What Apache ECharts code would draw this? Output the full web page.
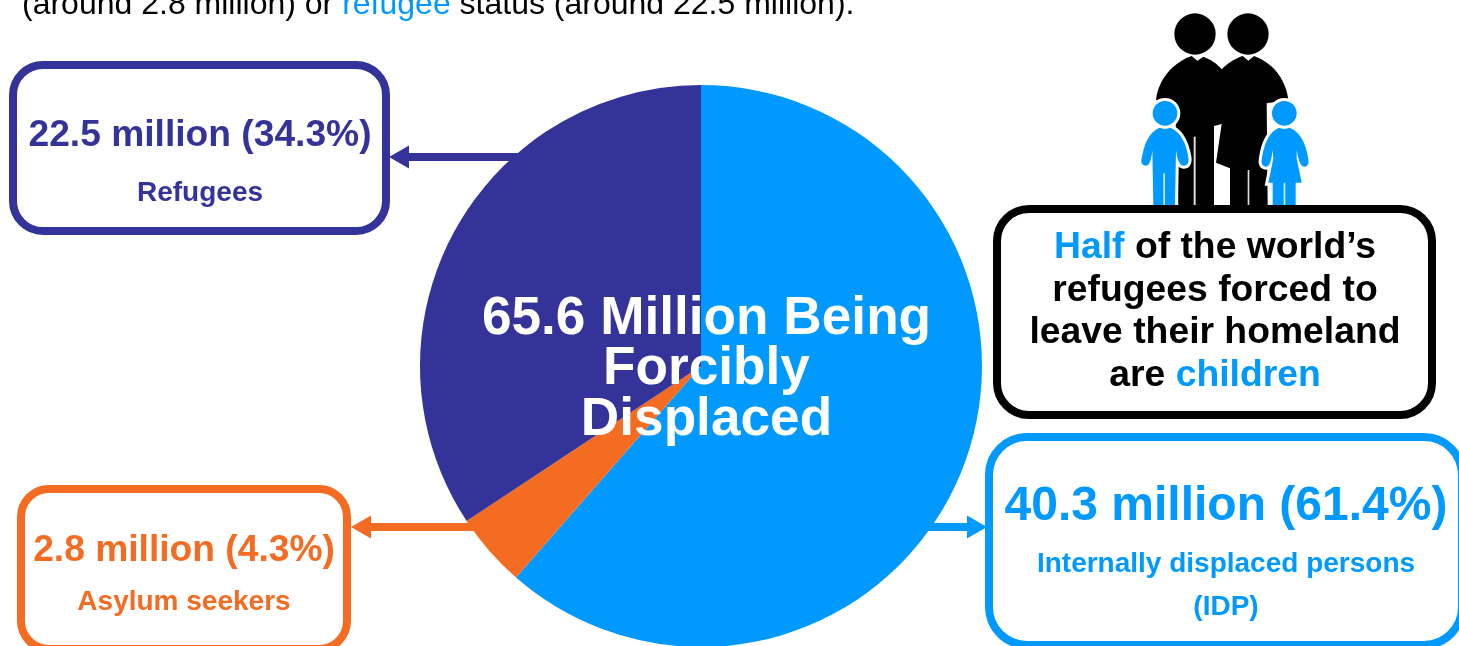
<!DOCTYPE html>
<html>
<head>
<meta charset="utf-8">
<style>html,body{margin:0;padding:0;background:#fff}#c{width:1459px;height:646px}</style>
<script src="https://cdn.jsdelivr.net/npm/echarts@6/dist/echarts.min.js"></script>
</head>
<body>
<div id="c"></div>
<script>
// Displaced population by status, in millions and as share of the total
const categories = ['Internally displaced persons', 'Asylum seekers', 'Refugees'];
const millions = [40.3, 2.8, 22.5];
const shares = [61.4, 4.3, 34.3];
const totalLabel = ['65.6 Million Being', 'Forcibly', 'Displaced'];
const introLine = ['(around 2.8 million) or ', 'refugee', ' status (around 22.5 million).'];
const childrenNote = [
  '{k|Half} of the world’s',
  'refugees forced to',
  'leave their homeland',
  'are {k|children}'
];

const BLUE = '#0099FF', ORANGE = '#F46B22', NAVY = '#333399', FONT = '"Liberation Sans", Arial, sans-serif';

const chart = echarts.init(document.getElementById('c'), null, { renderer: 'canvas' });

function box(x, y, w, h, r, color, lw) {
  return { type: 'rect', z: 5, shape: { x, y, width: w, height: h, r }, style: { fill: '#fff', stroke: color, lineWidth: lw } };
}
function label(text, x, y, size, color) {
  return { type: 'text', z: 6, x, y, style: { text, fill: color, font: 'bold ' + size + 'px ' + FONT, align: 'center', verticalAlign: 'middle' } };
}
// Horizontal leader with a triangular head; tip is the x the arrow points at
function arrow(x0, tip, y, color) {
  const dir = tip > x0 ? 1 : -1;
  const neck = tip - dir * 20;
  return [
    { type: 'rect', z: 0, shape: { x: Math.min(x0, neck), y: y - 4, width: Math.abs(neck - x0), height: 8 }, style: { fill: color } },
    { type: 'polygon', z: 7, shape: { points: [[tip, y], [neck, y - 11.5], [neck, y + 11.5]] }, style: { fill: color } }
  ];
}
function sumText(i) {
  return millions[i] + ' million (' + shares[i] + '%)';
}

// Turns an outline of M/L/C commands into polygon vertices
function outline(d) {
  const tok = d.replace(/([MLC])/g, ' $1 ').trim().split(/\s+/);
  const pts = [];
  let i = 0, cx = 0, cy = 0;
  while (i < tok.length) {
    const t = tok[i];
    if (t === 'M' || t === 'L') {
      cx = +tok[i + 1]; cy = +tok[i + 2]; pts.push([cx, cy]); i += 3;
    } else if (t === 'C') {
      const [a, b, c, e, f, g] = tok.slice(i + 1, i + 7).map(Number);
      for (let s = 1; s <= 12; s++) {
        const u = s / 12, v = 1 - u;
        pts.push([
          v * v * v * cx + 3 * v * v * u * a + 3 * v * u * u * c + u * u * u * f,
          v * v * v * cy + 3 * v * v * u * b + 3 * v * u * u * e + u * u * u * g
        ]);
      }
      cx = f; cy = g; i += 7;
    } else { i++; }
  }
  return pts;
}

// Family pictogram, outlined on a 3:1 grid
const adults = 'M108 300 C112 250 150 190 215 168 L232 182 L250 170 C280 182 295 196 305 208 C320 192 340 178 368 168 L385 182 L402 168 C460 188 498 240 505 300 L440 310 L443 615 L330 615 L330 505 L288 488 L305 372 L282 378 L282 615 L175 615 L165 310';
const boy = 'M128 381 C95 388 75 420 66 470 C60 490 68 497 78 497 C88 497 94 480 97 450 L100 615 L165 615 L168 450 C172 480 178 497 192 497 C202 497 208 488 205 470 C196 420 175 388 142 381 L135 388';
const girl = 'M486 381 C452 388 432 425 425 480 C423 495 432 500 438 500 C450 500 454 480 458 450 L460 475 L445 548 L458 548 L458 615 L527 615 L527 548 L545 548 L530 475 L530 450 C536 480 540 500 554 500 C562 500 567 492 565 480 C558 425 535 388 500 381 L493 388';

// White halo behind a child's shape
const halo = { stroke: '#fff', lineWidth: 18, strokeFirst: true };

const family = {
  type: 'group', x: 1120, y: 0, scaleX: 1 / 3, scaleY: 1 / 3,
  children: [
    { type: 'circle', z: 4, shape: { cx: 225, cy: 102, r: 62 }, style: { fill: '#000' } },
    { type: 'circle', z: 4, shape: { cx: 384, cy: 102, r: 62 }, style: { fill: '#000' } },
    { type: 'polygon', z: 4, shape: { points: outline(adults) }, style: { fill: '#000' } },
    { type: 'rect', z: 4, shape: { x: 221, y: 410, width: 6, height: 205 }, style: { fill: '#ddd' } },
    { type: 'rect', z: 4, shape: { x: 383, y: 510, width: 5, height: 105 }, style: { fill: '#ddd' } },
    { type: 'polygon', z: 4, shape: { points: outline(boy) }, style: { fill: BLUE, ...halo } },
    { type: 'circle', z: 4, shape: { cx: 135, cy: 340, r: 37 }, style: { fill: BLUE, ...halo } },
    { type: 'rect', z: 4, shape: { x: 130, y: 520, width: 5, height: 95 }, style: { fill: '#cfe9ff' } },
    { type: 'polygon', z: 4, shape: { points: outline(girl) }, style: { fill: BLUE, ...halo } },
    { type: 'circle', z: 4, shape: { cx: 493, cy: 340, r: 37 }, style: { fill: BLUE, ...halo } },
    { type: 'rect', z: 4, shape: { x: 491, y: 548, width: 5, height: 67 }, style: { fill: '#cfe9ff' } }
  ]
};

const noteRich = { k: { fill: BLUE, font: 'bold 37.3px ' + FONT } };

chart.setOption({
  animation: false,
  backgroundColor: '#fff',
  tooltip: { show: false },
  series: [{
    type: 'pie',
    z: 2,
    center: [701, 366],
    radius: [0, 281],
    startAngle: 90,
    clockwise: true,
    silent: true,
    label: { show: false },
    labelLine: { show: false },
    data: categories.map((name, i) => ({
      name,
      value: millions[i],
      itemStyle: { color: [BLUE, ORANGE, NAVY][i] }
    }))
  }],
  graphic: { elements: [
    // Intro sentence, clipped by the top edge
    { type: 'text', z: 6, x: 22, y: 5, style: {
      text: introLine[0] + '{k|' + introLine[1] + '}' + introLine[2],
      fill: '#000', font: '32px ' + FONT, verticalAlign: 'middle',
      rich: { k: { fill: BLUE, font: '32px ' + FONT } }
    } },

    ...arrow(560, 389, 157, NAVY),
    ...arrow(520, 351, 527, ORANGE),
    ...arrow(900, 987, 527, BLUE),

    box(13, 65, 373, 166, 30, NAVY, 8),
    label(sumText(2), 200, 135.5, 37.2, NAVY),
    label(categories[2], 200, 193, 28, NAVY),

    box(21, 489, 326, 160, 28, ORANGE, 8),
    label(sumText(1), 184, 550.5, 37.2, ORANGE),
    label(categories[1], 184, 602, 28, ORANGE),

    box(989, 437, 473, 208, 38, BLUE, 8),
    label(sumText(0), 1226, 507, 48, BLUE),
    label(categories[0], 1226, 564, 28, BLUE),
    label('(IDP)', 1226, 607, 28, BLUE),

    family,
    box(997, 209, 435, 206, 32, '#000', 8),
    ...childrenNote.map((line, i) => ({
      type: 'text', z: 6, x: 1215, y: 248 + i * 42.5,
      style: { text: line, fill: '#000', font: 'bold 37.3px ' + FONT, align: 'center', verticalAlign: 'middle', rich: noteRich }
    })),

    // Total across the pie
    ...totalLabel.map((line, i) => ({
      type: 'text', z: 20, x: 706.5, y: 319 + i * 50.5,
      style: { text: line, fill: '#fff', font: 'bold 53.2px ' + FONT, align: 'center', verticalAlign: 'middle' }
    }))
  ] }
});
</script>
</body>
</html>
